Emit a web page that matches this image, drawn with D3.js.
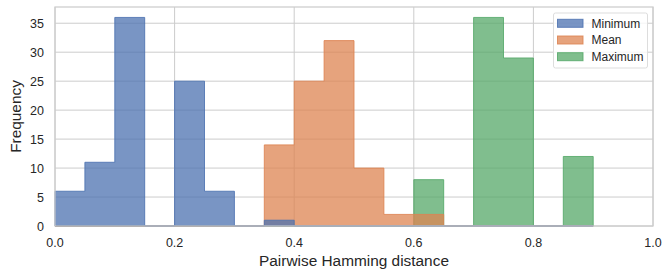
<!DOCTYPE html>
<html><head><meta charset="utf-8">
<script src="https://cdn.jsdelivr.net/npm/d3@7"></script>
<style>body{margin:0;background:#fff}svg{display:block;font-family:"Liberation Sans",Arial,sans-serif}</style>
</head><body>
<svg id="c" width="663" height="272"></svg>
<script>
const binEdges = [0,0.05,0.1,0.15,0.2,0.25,0.3,0.35,0.4,0.45,0.5,0.55,0.6,0.65,0.7,0.75,0.8,0.85,0.9];
const minimumCounts = [6,11,36,0,25,6,0,1,0,0,0,0,0,0,0,0,0,0];
const meanCounts    = [0,0,0,0,0,0,0,14,25,32,10,2,2,0,0,0,0,0];
const maximumCounts = [0,0,0,0,0,0,0,0,0,0,0,0,8,0,36,29,0,12];
const seriesNames = ["Minimum","Mean","Maximum"];
const seriesColors = ["#4C72B0","#DD8452","#55A868"];
const xTicks = [0,0.2,0.4,0.6,0.8,1.0];
const yTicks = [0,5,10,15,20,25,30,35];

const svg = d3.select("#c");
const m = {l:55, r:653, t:7, b:226};
const x = d3.scaleLinear().domain([0,1]).range([m.l,m.r]);
const y = d3.scaleLinear().domain([0,37.8]).range([m.b,m.t]);

// grid
svg.append("g").selectAll("line").data(yTicks).join("line")
  .attr("x1",m.l).attr("x2",m.r).attr("y1",d=>y(d)).attr("y2",d=>y(d))
  .attr("stroke","#cccccc").attr("stroke-width",1);
svg.append("g").selectAll("line").data(xTicks).join("line")
  .attr("y1",m.t).attr("y2",m.b).attr("x1",d=>x(d)).attr("x2",d=>x(d))
  .attr("stroke","#cccccc").attr("stroke-width",1);

// histograms (drawn Maximum, Mean, Minimum so Minimum lies on top)
const allCounts = [minimumCounts, meanCounts, maximumCounts];
[2,1,0].forEach(i=>{
  const counts = allCounts[i];
  const pts = [[binEdges[0],0]];
  counts.forEach((c,j)=>{ pts.push([binEdges[j],c]); pts.push([binEdges[j+1],c]); });
  pts.push([binEdges[binEdges.length-1],0]);
  const line = d3.line().x(d=>x(d[0])).y(d=>y(d[1]));
  svg.append("path").attr("d", line(pts)+"Z")
    .attr("fill",seriesColors[i]).attr("fill-opacity",0.75)
    .attr("stroke",seriesColors[i]).attr("stroke-opacity",0.85).attr("stroke-width",1);
});

// spines
svg.append("rect").attr("x",m.l).attr("y",m.t).attr("width",m.r-m.l).attr("height",m.b-m.t)
  .attr("fill","none").attr("stroke","#cccccc").attr("stroke-width",1.25);

// tick labels
svg.append("g").selectAll("text").data(yTicks).join("text")
  .attr("x",m.l-11).attr("y",d=>y(d)+4.5).attr("text-anchor","end")
  .attr("font-size",12.5).attr("fill","#262626").text(d=>d);
svg.append("g").selectAll("text").data(xTicks).join("text")
  .attr("x",d=>x(d)).attr("y",247).attr("text-anchor","middle")
  .attr("font-size",12.5).attr("fill","#262626").text(d=>d3.format(".1f")(d));

// axis labels
svg.append("text").attr("x",(m.l+m.r)/2).attr("y",265.5).attr("text-anchor","middle")
  .attr("font-size",15.4).attr("fill","#262626").text("Pairwise Hamming distance");
svg.append("text").attr("transform",`translate(21,${(m.t+m.b)/2}) rotate(-90)`).attr("text-anchor","middle")
  .attr("font-size",15.4).attr("fill","#262626").text("Frequency");

// legend
const lg = svg.append("g");
lg.append("rect").attr("x",553.5).attr("y",13).attr("width",94).attr("height",55).attr("rx",2)
  .attr("fill","#fff").attr("fill-opacity",0.8).attr("stroke","#dddddd").attr("stroke-width",1);
seriesNames.forEach((n,i)=>{
  const yy = 19.3 + i*16.7;
  lg.append("rect").attr("x",557.5).attr("y",yy).attr("width",25.5).attr("height",8)
    .attr("fill",seriesColors[i]).attr("fill-opacity",0.75)
    .attr("stroke",seriesColors[i]).attr("stroke-opacity",0.85);
  lg.append("text").attr("x",591.5).attr("y",yy+8.2).attr("font-size",12).attr("fill","#262626").text(n);
});
</script>
</body></html>
